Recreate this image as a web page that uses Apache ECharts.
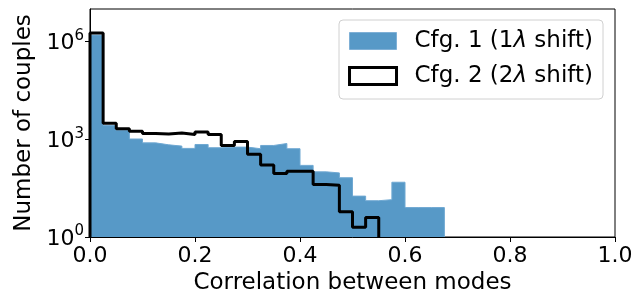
<!DOCTYPE html>
<html>
<head>
<meta charset="utf-8">
<script src="https://cdn.jsdelivr.net/npm/echarts@6/dist/echarts.min.js"></script>
<style>
html,body{margin:0;padding:0;background:#fff}
#main{width:642px;height:295px}
</style>
</head>
<body>
<div id="main"></div>
<script>
// histogram, bins of 0.025 starting at 0
const binWidth = 0.025;
const cfg1Counts = [1580000, 2630, 1860, 1020, 776, 676, 617, 525, 692, 550, 575, 575, 513, 646, 741, 513, 158, 100, 93, 66, 18, 13, 14, 48, 8, 8, 8];
const cfg2Counts = [1820000, 3090, 2090, 1780, 1510, 1450, 1550, 1410, 1660, 1410, 646, 851, 347, 162, 89, 105, 105, 41, 39, 6, 2, 4];
const xTicks = [0, 0.2, 0.4, 0.6, 0.8, 1.0];
const yTickExp = [0, 3, 6];
const seriesNames = ['Cfg. 1 (1λ shift)', 'Cfg. 2 (2λ shift)'];

const font = 'DejaVu Sans';

// outline of a histogram, y in log10 (count 1 -> 0)
function stepPoints(counts) {
    let pts = [[0, 0]];
    for (let i = 0; i < counts.length; i++) {
        pts.push([i * binWidth, Math.log10(counts[i])]);
    }
    pts.push([counts.length * binWidth, 0]);
    return pts;
}

let myChart = echarts.init(document.getElementById('main'));
let option = {
    animation: false,
    backgroundColor: '#fff',
    grid: {
        left: 90,
        right: 27,
        top: 9,
        bottom: 58,
        outerBoundsMode: 'none',
        show: true,
        borderColor: '#000',
        borderWidth: 1
    },
    legend: {
        orient: 'vertical',
        right: 39,
        top: 20,
        padding: [8, 10, 10, 9],
        itemGap: 9,
        itemWidth: 47,
        itemHeight: 17,
        backgroundColor: '#fff',
        borderColor: '#d0d0d0',
        borderWidth: 1,
        borderRadius: 4,
        textStyle: {
            fontFamily: font,
            fontSize: 23,
            lineHeight: 26,
            color: '#000',
            padding: [0, 0, 0, 13],
            rich: {
                i: {fontFamily: font, fontSize: 23, lineHeight: 26, fontStyle: 'italic', color: '#000'}
            }
        },
        formatter: function (name) {
            return name.replace('λ', '{i|λ}');
        },
        data: [
            {name: seriesNames[0], icon: 'rect', itemStyle: {color: '#5799c7', borderColor: '#7fb0d6', borderWidth: 1}},
            {name: seriesNames[1], icon: 'rect', itemStyle: {color: '#fff', borderColor: '#000', borderWidth: 3}}
        ]
    },
    xAxis: {
        type: 'value',
        min: 0,
        max: 1,
        interval: 0.2,
        name: 'Correlation between modes',
        nameLocation: 'middle',
        nameGap: 33,
        nameTextStyle: {fontFamily: font, fontSize: 23, color: '#000'},
        axisLine: {lineStyle: {color: '#000', width: 1}},
        axisTick: {length: 5, lineStyle: {color: '#000'}},
        axisLabel: {
            customValues: xTicks,
            fontFamily: font,
            fontSize: 22,
            color: '#000',
            margin: 8,
            formatter: function (v) { return v.toFixed(1); }
        },
        splitLine: {show: false}
    },
    yAxis: {
        type: 'value',
        min: 0,
        max: 7,
        name: 'Number of couples',
        nameLocation: 'middle',
        nameGap: 54,
        nameTextStyle: {fontFamily: font, fontSize: 23, color: '#000'},
        axisLine: {lineStyle: {color: '#000', width: 1}},
        axisTick: {customValues: yTickExp, length: 5, lineStyle: {color: '#000'}},
        axisLabel: {
            customValues: yTickExp,
            margin: 6,
            formatter: function (v) { return '{b|10}{s|' + v + '}'; },
            rich: {
                b: {fontFamily: font, fontSize: 22, color: '#000', lineHeight: 26, verticalAlign: 'bottom'},
                s: {fontFamily: font, fontSize: 15, color: '#000', lineHeight: 26, verticalAlign: 'top'}
            }
        },
        splitLine: {show: false}
    },
    series: [
        {
            name: seriesNames[0],
            type: 'line',
            step: 'end',
            symbol: 'none',
            lineStyle: {width: 1, color: '#6fa8d2'},
            itemStyle: {color: '#5799c7'},
            areaStyle: {color: '#5799c7', opacity: 1},
            data: stepPoints(cfg1Counts),
            z: 2
        },
        {
            name: seriesNames[1],
            type: 'line',
            step: 'end',
            symbol: 'none',
            lineStyle: {width: 3, color: '#000'},
            itemStyle: {color: '#000'},
            data: stepPoints(cfg2Counts),
            z: 3
        }
    ]
};
myChart.setOption(option);
</script>
</body>
</html>
